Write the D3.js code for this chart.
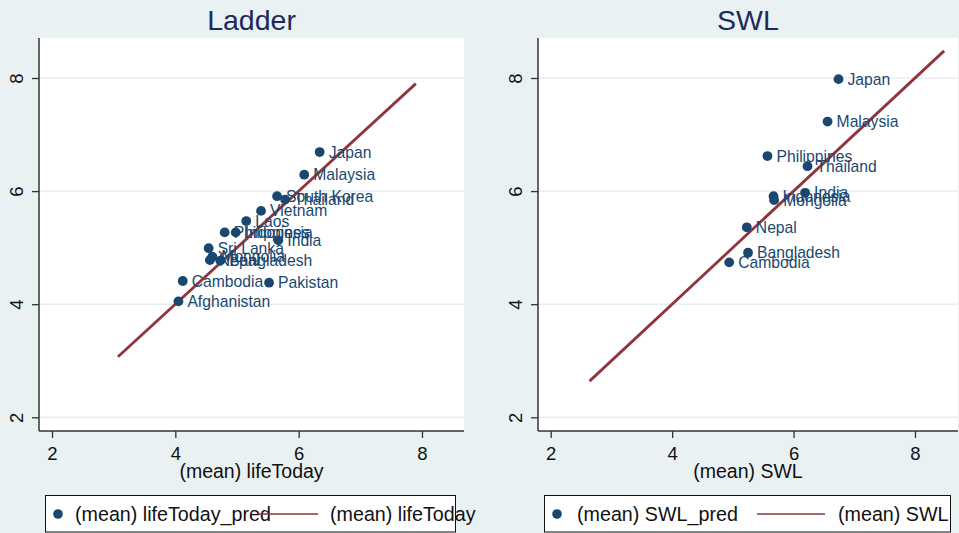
<!DOCTYPE html>
<html>
<head>
<meta charset="utf-8">
<script src="https://cdn.jsdelivr.net/npm/d3@7"></script>
<style>
  html, body { margin: 0; padding: 0; background: #e9f1f3; }
  svg { display: block; font-family: "Liberation Sans", Arial, sans-serif; }
</style>
</head>
<body>
<svg id="chart" width="959" height="533"></svg>
<script>
// ---- Data ----
const tickValues = [2, 4, 6, 8];

const ladderCountries = ["Japan", "Malaysia", "South Korea", "Thailand", "Vietnam", "Laos",
  "Philippines", "Indonesia", "India", "Sri Lanka", "Mongolia", "Nepal", "Bangladesh",
  "Cambodia", "Pakistan", "Afghanistan"];
const ladderX = [6.34, 6.09, 5.65, 5.78, 5.39, 5.15, 4.80, 4.98, 5.67, 4.54, 4.60, 4.56, 4.73, 4.12, 5.52, 4.05];
const ladderY = [6.69, 6.29, 5.91, 5.85, 5.65, 5.47, 5.27, 5.27, 5.13, 4.99, 4.84, 4.78, 4.77, 4.41, 4.38, 4.05];
const ladderLine = [3.07, 7.90];

const swlCountries = ["Japan", "Malaysia", "Philippines", "Thailand", "India", "Indonesia",
  "Mongolia", "Nepal", "Bangladesh", "Cambodia"];
const swlX = [6.74, 6.56, 5.57, 6.23, 6.19, 5.67, 5.68, 5.23, 5.25, 4.94];
const swlY = [7.98, 7.23, 6.62, 6.44, 5.97, 5.91, 5.84, 5.36, 4.91, 4.74];
const swlLine = [2.64, 8.48];

const panelTitles = ["Ladder", "SWL"];
const xTitles = ["(mean) lifeToday", "(mean) SWL"];
const legendDot = ["(mean) lifeToday_pred", "(mean) SWL_pred"];
const legendLine = ["(mean) lifeToday", "(mean) SWL"];

// ---- Style ----
const NAVY = "#1a476f", MAROON = "#90353b", BG = "#e9f1f3", GRID = "#e4edf1";
const svg = d3.select("#chart");
svg.append("rect").attr("width", 959).attr("height", 533).attr("fill", BG);

const panels = [
  { title: panelTitles[0], xt: xTitles[0], names: ladderCountries, xs: ladderX, ys: ladderY, line: ladderLine,
    area: [39, 464], xr: [52, 422], leg: { x0: 45.5, x1: 455.5, dot: 58, t1: 75, l0: 258, l1: 318, t2: 330 },
    ld: legendDot[0], ll: legendLine[0] },
  { title: panelTitles[1], xt: xTitles[1], names: swlCountries, xs: swlX, ys: swlY, line: swlLine,
    area: [538, 958], xr: [550.7, 915], leg: { x0: 544.5, x1: 950.5, dot: 557, t1: 577, l0: 757, l1: 825, t2: 838 },
    ld: legendDot[1], ll: legendLine[1] }
];

const TOP = 38, BOTTOM = 431;
const fmt = d3.format("d");

panels.forEach(p => {
  const x = d3.scaleLinear().domain([2, 8]).range(p.xr);
  const y = d3.scaleLinear().domain([2, 8]).range([417.3, 78]);
  const g = svg.append("g");

  // plot region
  g.append("rect").attr("x", p.area[0]).attr("y", TOP)
    .attr("width", p.area[1] - p.area[0]).attr("height", BOTTOM - TOP).attr("fill", "#fff");

  // gridlines
  g.selectAll(".grid").data(tickValues).enter().append("line")
    .attr("x1", p.area[0]).attr("x2", p.area[1])
    .attr("y1", d => y(d)).attr("y2", d => y(d))
    .attr("stroke", GRID).attr("stroke-width", 1.5);

  // title
  g.append("text").attr("x", (p.area[0] + p.area[1]) / 2).attr("y", 29.5)
    .attr("text-anchor", "middle").attr("font-size", 28.5).attr("fill", "#1c2b59").text(p.title);

  // fitted line
  g.append("line")
    .attr("x1", x(p.line[0])).attr("y1", y(p.line[0]))
    .attr("x2", x(p.line[1])).attr("y2", y(p.line[1]))
    .attr("stroke", MAROON).attr("stroke-width", 2.8);

  // points
  const pts = p.names.map((n, i) => ({ n, x: p.xs[i], y: p.ys[i] }));
  g.selectAll(".pt").data(pts).enter().append("circle")
    .attr("cx", d => x(d.x)).attr("cy", d => y(d.y)).attr("r", 4.9).attr("fill", NAVY);
  g.selectAll(".lbl").data(pts).enter().append("text")
    .attr("x", d => x(d.x) + 9).attr("y", d => y(d.y) + 5.6)
    .attr("font-size", 15.7).attr("fill", NAVY).text(d => d.n);

  // y axis
  const ya = g.append("g").attr("transform", `translate(${p.area[0]},0)`)
    .call(d3.axisLeft(y).tickValues(tickValues).tickFormat(fmt).tickSize(7).tickSizeOuter(0));
  ya.select(".domain").attr("d", `M0,${TOP}V${BOTTOM}`).attr("stroke", "#333").attr("stroke-width", 1.5);
  ya.selectAll(".tick line").attr("stroke", "#333").attr("stroke-width", 1.3);
  ya.selectAll(".tick text").attr("x", 0).attr("y", 0).attr("dy", 0)
    .attr("transform", "translate(-16,0) rotate(-90)").attr("text-anchor", "middle")
    .attr("font-size", 18.5).attr("fill", "#111").style("font-family", "Liberation Sans, Arial, sans-serif");

  // x axis
  const xa = g.append("g").attr("transform", `translate(0,${BOTTOM})`)
    .call(d3.axisBottom(x).tickValues(tickValues).tickFormat(fmt).tickSize(7).tickSizeOuter(0));
  xa.select(".domain").attr("d", `M${p.area[0]},0H${p.area[1]}`).attr("stroke", "#333").attr("stroke-width", 1.5);
  xa.selectAll(".tick line").attr("stroke", "#333").attr("stroke-width", 1.3);
  xa.selectAll(".tick text").attr("y", 28.5).attr("dy", 0)
    .attr("font-size", 18.5).attr("fill", "#111").style("font-family", "Liberation Sans, Arial, sans-serif");

  // x title
  g.append("text").attr("x", (p.area[0] + p.area[1]) / 2).attr("y", 477.5)
    .attr("text-anchor", "middle").attr("font-size", 19.5).attr("fill", "#111").text(p.xt);

  // legend
  const L = p.leg;
  g.append("rect").attr("x", L.x0).attr("y", 495.5).attr("width", L.x1 - L.x0).attr("height", 36.5)
    .attr("fill", "#fff").attr("stroke", "#111").attr("stroke-width", 1);
  g.append("circle").attr("cx", L.dot).attr("cy", 514).attr("r", 4.8).attr("fill", NAVY);
  g.append("text").attr("x", L.t1).attr("y", 521).attr("font-size", 19.7).attr("fill", "#111").text(p.ld);
  g.append("line").attr("x1", L.l0).attr("x2", L.l1).attr("y1", 514).attr("y2", 514)
    .attr("stroke", MAROON).attr("stroke-width", 1.6);
  g.append("text").attr("x", L.t2).attr("y", 521).attr("font-size", 19.7).attr("fill", "#111").text(p.ll);
});
</script>
</body>
</html>
